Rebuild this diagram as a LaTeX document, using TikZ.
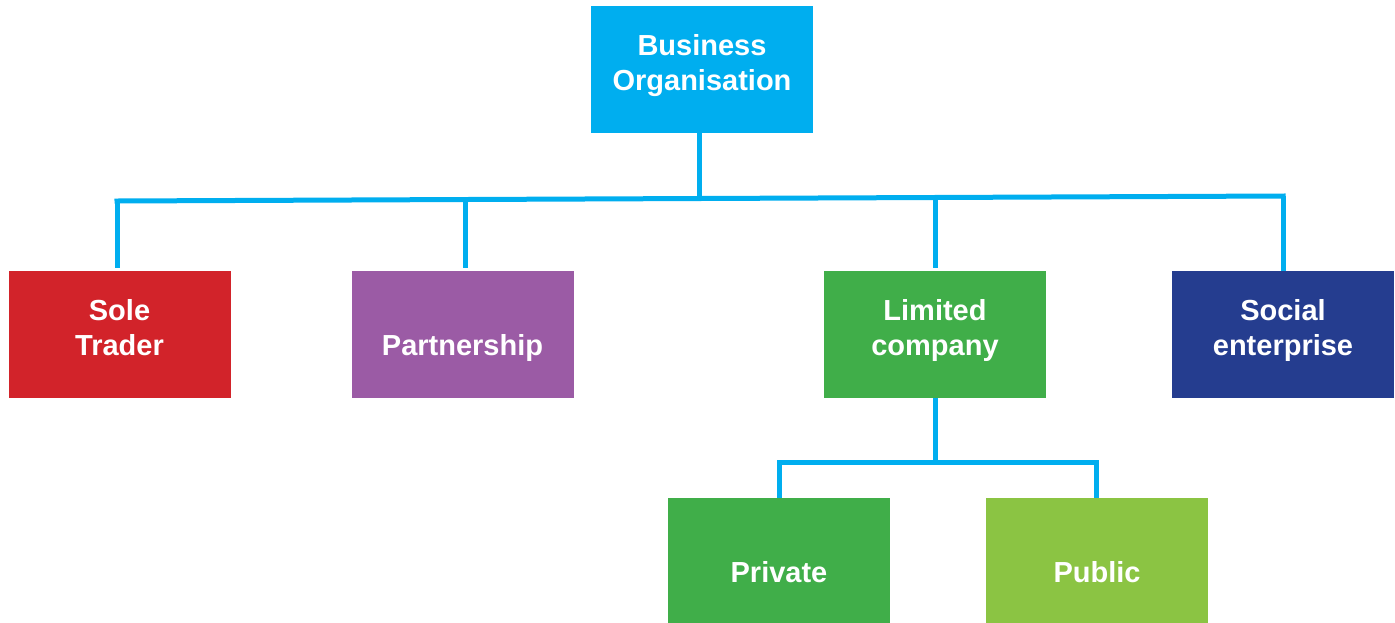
\documentclass[tikz,border=0pt]{standalone}
\usepackage{fontspec}
\setmainfont{Liberation Sans}
\definecolor{cyanc}{HTML}{00AEEF}
\definecolor{redc}{HTML}{D2232A}
\definecolor{purplec}{HTML}{9B5BA5}
\definecolor{greenc}{HTML}{40AE49}
\definecolor{navyc}{HTML}{253D8F}
\definecolor{lgreenc}{HTML}{8BC443}
\tikzset{
  box/.style={rectangle, inner sep=0pt, minimum width=222pt, minimum height=127pt, draw=none},
  lbl/.style={inner sep=0pt, align=center, text=white, font=\fontsize{29}{35}\selectfont\bfseries, anchor=base},
  conn/.style={line width=5pt, draw=cyanc},
  bar/.style={conn, line cap=rect}
}
\begin{document}
\begin{tikzpicture}[x=1pt,y=-1pt]
\useasboundingbox (0,0) rectangle (1395,622);
\clip (0,0) rectangle (1395,622);
% boxes
\node[box, fill=cyanc]   (top)     at (702,69.5) {};
\node[box, fill=redc]    (sole)    at (119.5,334.5) {};
\node[box, fill=purplec] (partner) at (462.5,334.5) {};
\node[box, fill=greenc]  (limited) at (935,334.5) {};
\node[box, fill=navyc]   (social)  at (1283,334.5) {};
\node[box, fill=greenc]  (private) at (779,561.5) {};
\node[box, fill=lgreenc] (public)  at (1097,561.5) {};
% labels
\node[lbl] (topt)     at ([yshift=43pt]top.south) {Business\\Organisation};
\node[lbl] (solet)    at ([yshift=43pt]sole.south) {Sole\\Trader};
\node[lbl] (partnert) at ([yshift=43pt]partner.south) {Partnership};
\node[lbl] (limitedt) at ([yshift=43pt]limited.south) {Limited\\company};
\node[lbl] (socialt)  at ([yshift=43pt]social.south) {Social\\enterprise};
\node[lbl] (privatet) at ([yshift=43pt]private.south) {Private};
\node[lbl] (publict)  at ([yshift=43pt]public.south) {Public};
% connector points
\coordinate (c1) at (117,201);
\coordinate (c2) at (465,199.5);
\coordinate (ct) at (699,198.5);
\coordinate (c3) at (935,197.5);
\coordinate (c4) at (1283,196);
\coordinate (d0) at (935,462.5);
\coordinate (d1) at (779.5,462.5);
\coordinate (d2) at (1096.5,462.5);
% connectors
\draw[conn] ([xshift=-3pt]top.south) -- (ct);
\draw[bar] (c1) -- (c4);
\draw[conn, shorten >=3pt] (c1) -- (c1 |- sole.north);
\draw[conn, shorten >=3pt] (c2) -- (c2 |- partner.north);
\draw[conn, shorten >=3pt] (c3) -- (c3 |- limited.north);
\draw[conn] (c4) -- (c4 |- social.north);
\draw[conn] (limited.south) -- (d0);
\draw[bar] (d1) -- (d2);
\draw[conn] (d1) -- (d1 |- private.north);
\draw[conn] (d2) -- (d2 |- public.north);
\end{tikzpicture}
\end{document}
